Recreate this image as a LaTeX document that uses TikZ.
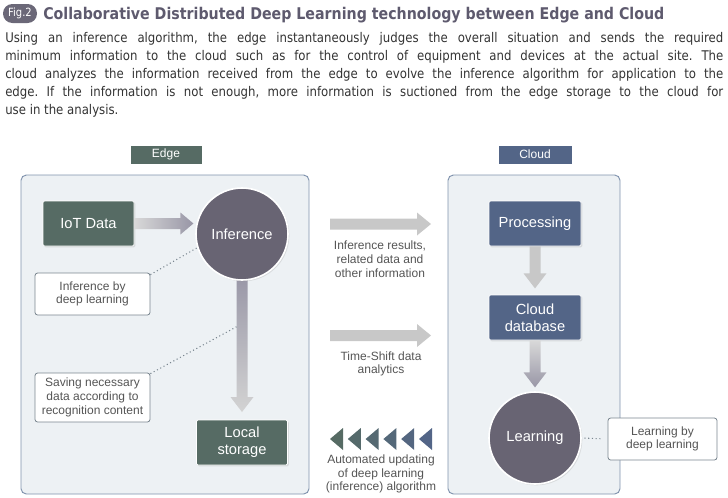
\documentclass[tikz,border=0pt]{standalone}
\usepackage{fontspec}
\setmainfont{Liberation Sans}
\newfontfamily\bodyfont[FakeStretch=0.88]{DejaVu Sans}
\usetikzlibrary{positioning,calc,shadows}
\definecolor{edgegreen}{HTML}{566B64}
\definecolor{cloudblue}{HTML}{536587}
\definecolor{circlegray}{HTML}{686473}
\definecolor{panelbg}{HTML}{EDF1F4}
\definecolor{panelline}{HTML}{7F92AD}
\definecolor{arrgray}{HTML}{C8C8C8}
\definecolor{arrdark}{HTML}{9896A6}
\definecolor{notetext}{HTML}{555555}
\definecolor{noteline}{HTML}{7A8690}
\definecolor{titlecol}{HTML}{5E5A6E}
\definecolor{badgebg}{HTML}{6B6878}
\definecolor{bodytext}{HTML}{333333}
\frenchspacing

\begin{document}
\begin{tikzpicture}[
    x=0.75pt,y=-0.75pt,
    every node/.style={font=\fontsize{9}{10.3}\selectfont},
    panel/.style={
        rounded corners=4pt,
        draw=panelline,
        line width=0.7pt,
        fill=panelbg,
        minimum height=239.25pt,
    },
    tagbox/.style={
        inner sep=0pt,
        minimum height=14.25pt,
        text=white,
        draw=white,
        line width=0.6pt,
        drop shadow={opacity=0.2,shadow xshift=0.8pt,shadow yshift=-0.8pt},
        font=\fontsize{9}{10}\selectfont,
    },
    edgebox/.style={
        inner sep=0pt,
        minimum width=68.25pt,
        minimum height=33.75pt,
        align=center,
        rounded corners=1pt,
        text=white,
        fill=edgegreen,
        draw=white,
        line width=0.6pt,
        drop shadow={opacity=0.2,shadow xshift=1pt,shadow yshift=-1pt},
        font=\fontsize{11}{12.5}\selectfont,
    },
    cloudbox/.style={edgebox,fill=cloudblue,minimum width=69pt},
    brain/.style={
        circle,
        inner sep=0pt,
        minimum size=69pt,
        fill=circlegray,
        draw=white,
        line width=1.2pt,
        text=white,
        drop shadow={opacity=0.2,shadow xshift=1pt,shadow yshift=-1pt},
        font=\fontsize{11}{12.5}\selectfont,
    },
    notebox/.style={
        inner sep=0pt,
        minimum width=86.25pt,
        align=center,
        rounded corners=2pt,
        fill=white,
        draw=noteline,
        line width=0.6pt,
        text=notetext,
    },
    midtext/.style={align=center,text=notetext},
    dots/.style={dotted,line width=0.8pt,color=noteline},
]
\useasboundingbox (0,0) rectangle (728,497);

% === Heading ===
\node[fill=badgebg,rounded corners=7pt,inner sep=0pt,minimum width=25.5pt,minimum height=14.25pt,
    text=white,font=\bodyfont\fontsize{8.5}{10}\selectfont] (badge) at (20,13.5) {Fig.2};
\node[anchor=base west,inner sep=0pt,text=titlecol,font=\bodyfont\bfseries\fontsize{12.1}{14}\selectfont] (title) at (43,19)
    {Collaborative Distributed Deep Learning technology between Edge and Cloud};

\begin{scope}[every node/.style={anchor=base west,inner sep=0pt,text=bodytext,font=\bodyfont\fontsize{10}{12}\selectfont}]
\node (l1) at (5,42) {\makebox[538.5pt][s]{Using an inference algorithm, the edge instantaneously judges the overall situation and sends the required}};
\node (l2) at (5,60) {\makebox[538.5pt][s]{minimum information to the cloud such as for the control of equipment and devices at the actual site. The}};
\node (l3) at (5,78) {\makebox[538.5pt][s]{cloud analyzes the information received from the edge to evolve the inference algorithm for application to the}};
\node (l4) at (5,96) {\makebox[538.5pt][s]{edge. If the information is not enough, more information is suctioned from the edge storage to the cloud for}};
\node (l5) at (5,114) {use in the analysis.};
\end{scope}

% === Panels ===
\node[panel,minimum width=216pt] (edgepanel) at (165,334.5) {};
\node[panel,minimum width=129pt] (cloudpanel) at (534,334.5) {};
\node[tagbox,fill=edgegreen,minimum width=54pt] (edgetag) at (166,154.5) {Edge};
\node[tagbox,fill=cloudblue,minimum width=55.5pt] (cloudtag) at (535,154.5) {Cloud};

% === Edge side ===
\node[edgebox] (iot) at (88.5,223.5) {IoT Data};
\node[edgebox] (local) at (242,442.5) {Local\\storage};
\node[notebox,minimum height=31.5pt] (notea) at (92.5,294) {Inference by\\deep learning};
\node[notebox,minimum height=36.75pt] (noteb) at (92.5,397.5) {Saving necessary\\data according to\\recognition content};
\coordinate (inferc) at (242,234);
% arrow to storage sits under the circle
\shade[top color=arrdark,bottom color=arrgray!80] ($(inferc)+(-5.5,40)$) -- ++(0,123) -- ++(-6,0) -- ++(11.5,15) -- ++(11.5,-15) -- ++(-6,0) -- ++(0,-123) -- cycle;
\node[brain] (infer) at (inferc) {Inference};
\shade[left color=arrgray!70,right color=arrdark] ($(iot.east)+(0,-5.5)$) -- ++(46,0) -- ++(0,-5.5) -- ++(13,11) -- ++(-13,11) -- ++(0,-5.5) -- ++(-46,0) -- cycle;

% === Cloud side ===
\node[cloudbox] (proc) at (535,223.5) {Processing};
\node[cloudbox] (clouddb) at (535,317.5) {Cloud\\database};
\node[brain] (learn) at (535,438) {Learning};
\node[notebox,minimum width=81.75pt,minimum height=31.5pt] (notec) at (662.5,439) {Learning by\\deep learning};
\fill[arrgray] ($(proc.south)+(-5.5,0)$) -- ++(0,27) -- ++(-6,0) -- ++(11.5,15) -- ++(11.5,-15) -- ++(-6,0) -- ++(0,-27) -- cycle;
\shade[top color=arrgray!70,bottom color=arrdark] ($(clouddb.south)+(-5.5,0)$) -- ++(0,32) -- ++(-6,0) -- ++(11.5,15) -- ++(11.5,-15) -- ++(-6,0) -- ++(0,-32) -- cycle;

% === Between edge and cloud ===
\coordinate (send) at (330,224);
\coordinate (shift) at (330,335.5);
\fill[arrgray] ($(send)+(0,-5.5)$) -- ++(87,0) -- ++(0,-6) -- ++(14,11.5) -- ++(-14,11.5) -- ++(0,-6) -- ++(-87,0) -- cycle;
\fill[arrgray] ($(shift)+(0,-5.5)$) -- ++(87,0) -- ++(0,-6) -- ++(14,11.5) -- ++(-14,11.5) -- ++(0,-6) -- ++(-87,0) -- cycle;
\node[midtext] (sendtext) at (380,259) {Inference results,\\related data and\\other information};
\node[midtext] (shifttext) at (381,364) {Time-Shift data\\analytics};

\foreach \i/\c in {0/100,1/80,2/60,3/40,4/20,5/0}
    \fill[edgegreen!\c!cloudblue] (330+17.8*\i,439) -- ++(13,-11) -- ++(0,22) -- cycle;
\node[midtext] (updtext) at (381,474) {Automated updating\\of deep learning\\(inference) algorithm};

% === Dotted leaders ===
\coordinate (shaftpt) at ($(infer.south)+(-5.5,46)$);
\draw[dots] (notea.north east) ++(0,2) -- (infer.197);
\draw[dots] (noteb.north east) ++(0,1) -- (shaftpt);
\draw[dots,shorten <=2pt,shorten >=5pt] (learn.east) -- (notec.west);

\end{tikzpicture}
\end{document}
